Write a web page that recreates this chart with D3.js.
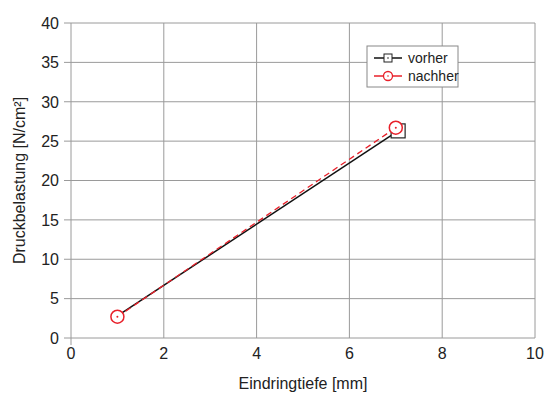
<!DOCTYPE html>
<html>
<head>
<meta charset="utf-8">
<script src="https://cdn.jsdelivr.net/npm/d3@7"></script>
<style>
  body { margin: 0; background: #fff; }
  text { font-family: "Liberation Sans", Arial, sans-serif; fill: #222; }
</style>
</head>
<body>
<script>
// data
var xTicks = [0, 2, 4, 6, 8, 10];
var yTicks = [0, 5, 10, 15, 20, 25, 30, 35, 40];
var seriesNames = ['vorher', 'nachher'];
var vorherX = [1, 7.05];
var vorherY = [2.8, 26.3];
var nachherX = [1, 7];
var nachherY = [2.7, 26.7];

var width = 555,
	height = 407;

var svg = d3.select('body')
	.append('svg')
	.attr('width', width)
	.attr('height', height);

// plot area
var x = d3.scaleLinear().domain([0, 10]).range([71, 535]);
var y = d3.scaleLinear().domain([0, 40]).range([338, 23]);

var gridColor = '#9a9a9a';

// vertical grid
svg.append('g')
	.selectAll('line')
	.data(xTicks)
	.enter().append('line')
	.attr('x1', function(d) { return x(d); })
	.attr('x2', function(d) { return x(d); })
	.attr('y1', y(40))
	.attr('y2', function(d) { return d === 0 ? y(0) + 7 : y(0); })
	.attr('stroke', gridColor)
	.attr('stroke-width', 1);

// horizontal grid
svg.append('g')
	.selectAll('line')
	.data(yTicks)
	.enter().append('line')
	.attr('x1', x(0) - 7)
	.attr('x2', x(10))
	.attr('y1', function(d) { return y(d); })
	.attr('y2', function(d) { return y(d); })
	.attr('stroke', gridColor)
	.attr('stroke-width', 1);

// tick labels
svg.append('g')
	.selectAll('text')
	.data(yTicks)
	.enter().append('text')
	.attr('x', x(0) - 12)
	.attr('y', function(d) { return y(d); })
	.attr('dy', '0.36em')
	.attr('text-anchor', 'end')
	.style('font-size', '16px')
	.text(function(d) { return d; });

svg.append('g')
	.selectAll('text')
	.data(xTicks)
	.enter().append('text')
	.attr('x', function(d) { return x(d); })
	.attr('y', y(0) + 21)
	.attr('text-anchor', 'middle')
	.style('font-size', '16px')
	.text(function(d) { return d; });

// axis titles
svg.append('text')
	.attr('x', 303)
	.attr('y', 389)
	.attr('text-anchor', 'middle')
	.style('font-size', '16px')
	.text('Eindringtiefe [mm]');

svg.append('text')
	.attr('transform', 'translate(25,' + y(20) + ') rotate(-90)')
	.attr('text-anchor', 'middle')
	.style('font-size', '16px')
	.text('Druckbelastung [N/cm²]');

var line = d3.line()
	.x(function(d) { return x(d[0]); })
	.y(function(d) { return y(d[1]); });

var vorher = d3.zip(vorherX, vorherY);
var nachher = d3.zip(nachherX, nachherY);

// vorher: black line, square markers
svg.append('path')
	.datum(vorher)
	.attr('d', line)
	.attr('fill', 'none')
	.attr('stroke', '#111')
	.attr('stroke-width', 1.5);

// the first square sits under the nachher circle, only the last one shows
svg.append('g')
	.selectAll('rect')
	.data(vorher.slice(1))
	.enter().append('rect')
	.attr('x', function(d) { return x(d[0]) - 7; })
	.attr('y', function(d) { return y(d[1]) - 7; })
	.attr('width', 14)
	.attr('height', 14)
	.attr('fill', '#fff')
	.attr('stroke', '#222')
	.attr('stroke-width', 1.2);

// nachher: red dashed line, circle markers
svg.append('path')
	.datum(nachher)
	.attr('d', line)
	.attr('fill', 'none')
	.attr('stroke', '#e8202a')
	.attr('stroke-width', 1.3)
	.attr('stroke-dasharray', '6,4');

var circ = svg.append('g')
	.selectAll('g')
	.data(nachher)
	.enter().append('g')
	.attr('transform', function(d) { return 'translate(' + x(d[0]) + ',' + y(d[1]) + ')'; });
circ.append('circle')
	.attr('r', 6.5)
	.attr('fill', '#fff')
	.attr('stroke', '#e8202a')
	.attr('stroke-width', 1.5);
circ.append('circle')
	.attr('r', 1)
	.attr('fill', '#e8202a');

// legend
var legend = svg.append('g')
	.attr('transform', 'translate(367,46)');
legend.append('rect')
	.attr('width', 91)
	.attr('height', 41)
	.attr('fill', '#fff')
	.attr('stroke', '#888')
	.attr('stroke-width', 1);

var items = legend.selectAll('g.item')
	.data(seriesNames)
	.enter().append('g')
	.attr('class', 'item')
	.attr('transform', function(d, i) { return 'translate(0,' + (12 + i * 18) + ')'; });

items.append('line')
	.attr('x1', 7)
	.attr('x2', 35)
	.attr('stroke', function(d, i) { return i === 0 ? '#111' : '#e8202a'; })
	.attr('stroke-width', 1.5);

items.filter(function(d, i) { return i === 0; })
	.append('rect')
	.attr('x', 17)
	.attr('y', -4)
	.attr('width', 8)
	.attr('height', 8)
	.attr('fill', '#fff')
	.attr('stroke', '#222');
items.filter(function(d, i) { return i === 1; })
	.append('circle')
	.attr('cx', 21)
	.attr('r', 4.5)
	.attr('fill', '#fff')
	.attr('stroke', '#e8202a')
	.attr('stroke-width', 1.3);
items.append('circle')
	.attr('cx', 21)
	.attr('r', 0.8)
	.attr('fill', function(d, i) { return i === 0 ? '#222' : '#e8202a'; });

items.append('text')
	.attr('x', 41)
	.attr('dy', '0.35em')
	.style('font-size', '14px')
	.text(function(d) { return d; });
</script>
</body>
</html>
